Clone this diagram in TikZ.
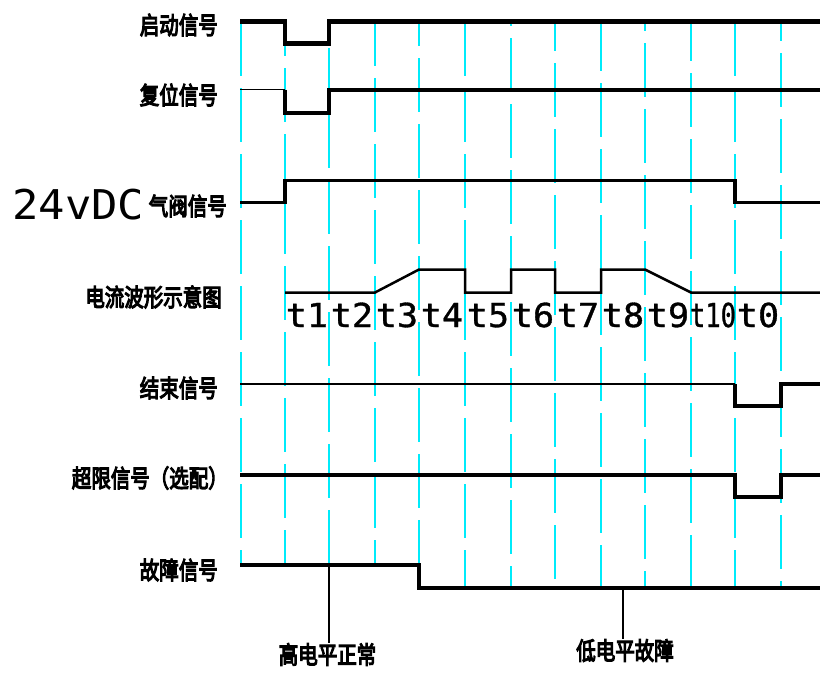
\documentclass[tikz,border=0pt]{standalone}
\usepackage{fontspec}
\usepackage{graphicx}
\newfontfamily\cjk[FakeBold=5]{Noto Sans CJK SC}
\newfontfamily\mono{DejaVu Sans Mono}
\newfontfamily\tfont[FakeBold=1]{DejaVu Sans Mono}
\definecolor{gcyan}{RGB}{0,235,250}
\newcommand\cnlab[1]{\scalebox{1}[1.25]{\cjk\fontsize{19.5}{20}\selectfont #1}}
\begin{document}
\begin{tikzpicture}[x=1pt,y=-1pt,
  gridl/.style={draw=gcyan,line width=2pt,dash pattern=on 54pt off 12pt},
  sig/.style={line width=#1},
  lbl/.style={anchor=east,inner sep=0pt},
  tl/.style={anchor=base,inner sep=0pt,font=\tfont\fontsize{30}{30}\selectfont},
  ptr/.style={line width=2pt}]
\useasboundingbox (0,0) rectangle (820,675);
% grid
\foreach \x/\b/\p in {241/565/0pt, 285/565/20pt, 329/565/40pt, 375/565/10pt, 419/565/30pt,
  465/588/0pt, 511/588/50pt, 555/588/25pt, 601/588/5pt, 645/588/45pt, 691/588/15pt,
  735/588/0pt, 781/588/35pt}
  \draw[gridl,dash phase=\p] (\x,22) -- (\x,\b);
% signals
\draw[sig=4.5pt] (240,21.5) -- (285,21.5) -- (285,43.5) -- (329,43.5) -- (329,21.5) -- (820,21.5);
\draw[sig=1.5pt] (240,89.5) -- (285,89.5);
\draw[sig=4pt] (285,89.5) -- (285,112.5) -- (329,112.5) -- (329,89.5) -- (820,89.5);
\draw[sig=3.5pt] (240,202.5) -- (285,202.5) -- (285,180.5) -- (735,180.5) -- (735,202.5) -- (820,202.5);
\draw[sig=2.5pt] (285,292.5) -- (375,292.5) -- (419,269.5) -- (465,269.5) -- (465,292.5)
  -- (511,292.5) -- (511,269.5) -- (555,269.5) -- (555,292.5) -- (601,292.5) -- (601,269.5)
  -- (645,269.5) -- (691,292.5) -- (820,292.5);
\draw[sig=2pt] (240,384) -- (735,384);
\draw[sig=3.5pt] (735,384) -- (735,406) -- (781,406) -- (781,384) -- (820,384);
\draw[sig=3.5pt] (240,475) -- (735,475) -- (735,497) -- (781,497) -- (781,475) -- (820,475);
\draw[sig=4.5pt] (240,565) -- (419,565) -- (419,588) -- (820,588);
% labels
\node[lbl] (qd) at (218,25) {\cnlab{启动信号}};
\node[lbl] (fw) at (218,95) {\cnlab{复位信号}};
\node[anchor=west,inner sep=0pt] (v24) at (12,205) {\scalebox{1.07}[1]{\mono\fontsize{41}{41}\selectfont 24vDC}};
\node[lbl] (qf) at (227,206) {\cnlab{气阀信号}};
\node[lbl] (dl) at (222,297) {\cnlab{电流波形示意图}};
\node[lbl] (js) at (218,388) {\cnlab{结束信号}};
\node[lbl] (cx) at (228,478) {\cnlab{超限信号（选配）}};
\node[lbl] (gz) at (218,570) {\cnlab{故障信号}};
% time labels
\foreach \c/\t in {307/t1, 352/t2, 397/t3, 442/t4, 488/t5, 533/t6, 578/t7,
  623/t8, 668/t9, 758/t0}
  \node[tl] (\t) at (\c,327) {\scalebox{1.17}[1.1]{\t}};
\node[tl] (t10) at (713,327) {\scalebox{0.85}[1.1]{t10}};
% pointers
\node[anchor=north,inner sep=0pt] (hi) at (327.5,643) {\cnlab{高电平正常}};
\coordinate (hiP) at (329,567);
\draw[ptr] (hiP) -- (hiP |- hi.north);
\node[anchor=north,inner sep=0pt] (lo) at (625,639) {\cnlab{低电平故障}};
\coordinate (loP) at (623,590);
\draw[ptr] (loP) -- (loP |- lo.north);
\end{tikzpicture}
\end{document}
